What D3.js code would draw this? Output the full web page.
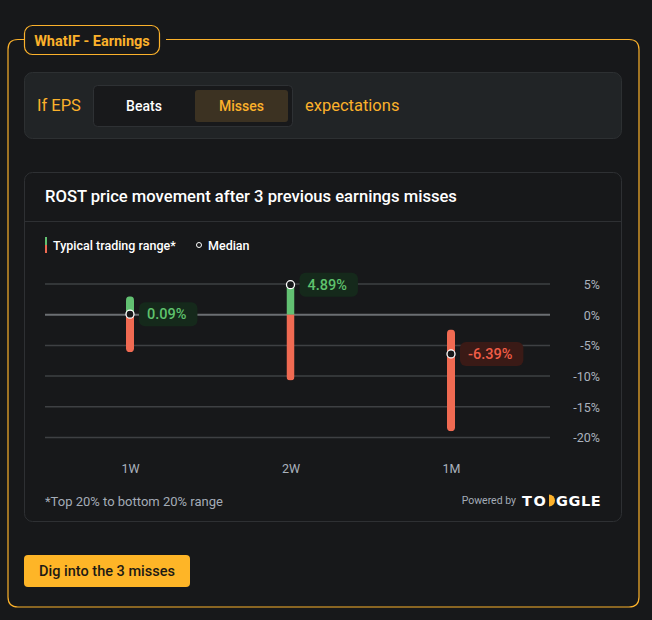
<!DOCTYPE html>
<html><head><meta charset="utf-8">
<script src="https://cdn.jsdelivr.net/npm/d3@7/dist/d3.min.js"></script>
<style>
html,body{margin:0;padding:0;background:#17181a;}
svg{display:block;font-family:Roboto,"Noto Sans",sans-serif;}
</style></head>
<body>
<svg id="c" width="652" height="620"></svg>
<script>
const categories = ["1W", "2W", "1M"];
const highs = [3.0, 5.0, -2.4];
const lows = [-6.1, -10.7, -19.0];
const medians = [0.09, 4.89, -6.39];
const yTicks = [5, 0, -5, -10, -15, -20];
const title = "ROST price movement after 3 previous earnings misses";

const ORANGE = "#fbb12b", GREEN = "#62c072", RED = "#f06a52";
const svg = d3.select("#c");
svg.append("rect").attr("width",652).attr("height",620).attr("fill","#17181a");

// outer frame with gap for tag
svg.append("path")
  .attr("d","M24,39.5 L18,39.5 Q8,39.5 8,49.5 L8,597 Q8,607 18,607 L629,607 Q639,607 639,597 L639,49.5 Q639,39.5 629,39.5 L166,39.5")
  .attr("fill","none").attr("stroke",ORANGE).attr("stroke-width",1.2);
svg.append("rect").attr("x",24.5).attr("y",25.5).attr("width",135).attr("height",29).attr("rx",8)
  .attr("fill","#17181a").attr("stroke",ORANGE).attr("stroke-width",1.2);
svg.append("text").attr("x",92).attr("y",45.5).attr("text-anchor","middle")
  .attr("fill",ORANGE).attr("font-size",14.5).attr("font-weight",700).text("WhatIF - Earnings");

// EPS panel
svg.append("rect").attr("x",24.5).attr("y",72.5).attr("width",597).attr("height",66).attr("rx",8)
  .attr("fill","#212426").attr("stroke","#2d3032");
svg.append("text").attr("x",37).attr("y",111).attr("fill",ORANGE).attr("font-size",16.5).text("If EPS");
svg.append("rect").attr("x",93.5).attr("y",85.5).attr("width",199).attr("height",41).attr("rx",4)
  .attr("fill","#18191b").attr("stroke","#2e3134");
svg.append("rect").attr("x",195).attr("y",90).attr("width",93).attr("height",32).attr("rx",3).attr("fill","#3c3222");
svg.append("text").attr("x",144).attr("y",110.5).attr("text-anchor","middle").attr("fill","#ffffff")
  .attr("font-size",14).attr("font-weight",500).text("Beats");
svg.append("text").attr("x",241.5).attr("y",110.5).attr("text-anchor","middle").attr("fill",ORANGE)
  .attr("font-size",14).attr("font-weight",500).text("Misses");
svg.append("text").attr("x",305).attr("y",111).attr("fill",ORANGE).attr("font-size",16.5).text("expectations");

// chart card
svg.append("rect").attr("x",24.5).attr("y",172.5).attr("width",597).attr("height",349).attr("rx",8)
  .attr("fill","#17181a").attr("stroke","#2e3033");
svg.append("line").attr("x1",25).attr("x2",621).attr("y1",221.5).attr("y2",221.5).attr("stroke","#2e3033");
svg.append("text").attr("x",45).attr("y",202).attr("fill","#ffffff").attr("font-size",16.6).attr("font-weight",500).text(title);

// legend
svg.append("rect").attr("x",45).attr("y",237).attr("width",2).attr("height",8).attr("fill",GREEN);
svg.append("rect").attr("x",45).attr("y",245).attr("width",2).attr("height",8).attr("fill",RED);
svg.append("text").attr("x",53).attr("y",249.5).attr("fill","#ffffff").attr("font-size",12.5).attr("font-weight",500).text("Typical trading range*");
svg.append("circle").attr("cx",199).attr("cy",245).attr("r",2.5).attr("fill","none").attr("stroke","#fff").attr("stroke-width",1);
svg.append("text").attr("x",208).attr("y",249.5).attr("fill","#ffffff").attr("font-size",12.5).attr("font-weight",500).text("Median");

// scales
const y = d3.scaleLinear().domain([-20, 5]).range([437.5, 284]);
const x = d3.scalePoint().domain(categories).range([130, 451]);

// grid + y axis
const yAxis = d3.axisRight(y).tickValues(yTicks).tickFormat(d => d + "%").tickSize(0);
const ga = svg.append("g").attr("transform","translate(600,0)").call(yAxis);
ga.select(".domain").remove();
ga.selectAll("text").attr("text-anchor","end").attr("x",0).attr("dy","0.35em")
  .attr("fill","#aab2bd").attr("font-size",12.5).attr("font-family","Roboto,sans-serif");
svg.append("g").selectAll("line").data(yTicks).join("line")
  .attr("x1",45).attr("x2",550).attr("y1",d=>y(d)).attr("y2",d=>y(d))
  .attr("stroke",d=>d===0?"#6b6e72":"#3e4043").attr("stroke-width",d=>d===0?2:1.5);

// x axis
const xAxis = d3.axisBottom(x).tickSize(0);
const gx = svg.append("g").attr("transform","translate(0,461)").call(xAxis);
gx.select(".domain").remove();
gx.selectAll("text").attr("fill","#aab2bd").attr("font-size",12.5).attr("font-family","Roboto,sans-serif");

// bars
const BW = 8;
const defs = svg.append("defs");
categories.forEach((c, i) => {
  const cx = x(c);
  const top = y(highs[i]), bot = y(lows[i]);
  const id = "clip" + i;
  defs.append("clipPath").attr("id", id).append("rect")
    .attr("x", cx - BW/2).attr("y", top).attr("width", BW).attr("height", bot - top).attr("rx", BW/2);
  const g = svg.append("g").attr("clip-path", `url(#${id})`);
  const z = y(0);
  if (highs[i] > 0) g.append("rect").attr("x", cx - BW/2).attr("y", top).attr("width", BW)
    .attr("height", Math.min(z, bot) - top).attr("fill", GREEN);
  if (lows[i] < 0) g.append("rect").attr("x", cx - BW/2).attr("y", Math.max(z, top)).attr("width", BW)
    .attr("height", bot - Math.max(z, top)).attr("fill", RED);
  const my = y(medians[i]);
  svg.append("circle").attr("cx", cx).attr("cy", my).attr("r", 4)
    .attr("fill", "#17181a").attr("stroke", "#ffffff").attr("stroke-width", 1.3);
  const pos = medians[i] >= 0;
  const label = medians[i].toFixed(2) + "%";
  const lg = svg.append("g");
  const t = lg.append("text").attr("x", cx + 17).attr("y", my).attr("dy", "0.36em")
    .attr("fill", pos ? "#5fc26d" : "#f05d47").attr("font-size", 14.5).attr("font-weight", 500).text(label);
  const w = t.node().getComputedTextLength();
  lg.insert("rect", "text").attr("x", cx + 9).attr("y", my - 12).attr("width", w + 19).attr("height", 24)
    .attr("rx", 6).attr("fill", pos ? "#15291b" : "#3a1a16");
});

// footer
svg.append("text").attr("x",45).attr("y",506).attr("fill","#a4acb7").attr("font-size",13).text("*Top 20% to bottom 20% range");
svg.append("text").attr("x",516).attr("y",504).attr("text-anchor","end").attr("fill","#a4acb7").attr("font-size",10.5).text("Powered by");
const logo = svg.append("g").attr("font-size",14.5).attr("font-weight",700).attr("fill","#ffffff").attr("font-family","'DejaVu Sans',sans-serif");
logo.append("text").attr("x",522).attr("y",506).attr("letter-spacing",1.5).text("TO");
logo.append("path").attr("d","M549,494.5 A6,6 0 0 1 549,506.5 Z").attr("fill",ORANGE);
logo.append("text").attr("x",556).attr("y",506).attr("letter-spacing",0.6).text("GGLE");

// button
svg.append("rect").attr("x",24).attr("y",555).attr("width",166).attr("height",32).attr("rx",4).attr("fill","#feb527");
svg.append("text").attr("x",107).attr("y",576).attr("text-anchor","middle").attr("fill","#1d1a14")
  .attr("font-size",14.5).attr("font-weight",500).text("Dig into the 3 misses");
</script>
</body></html>
